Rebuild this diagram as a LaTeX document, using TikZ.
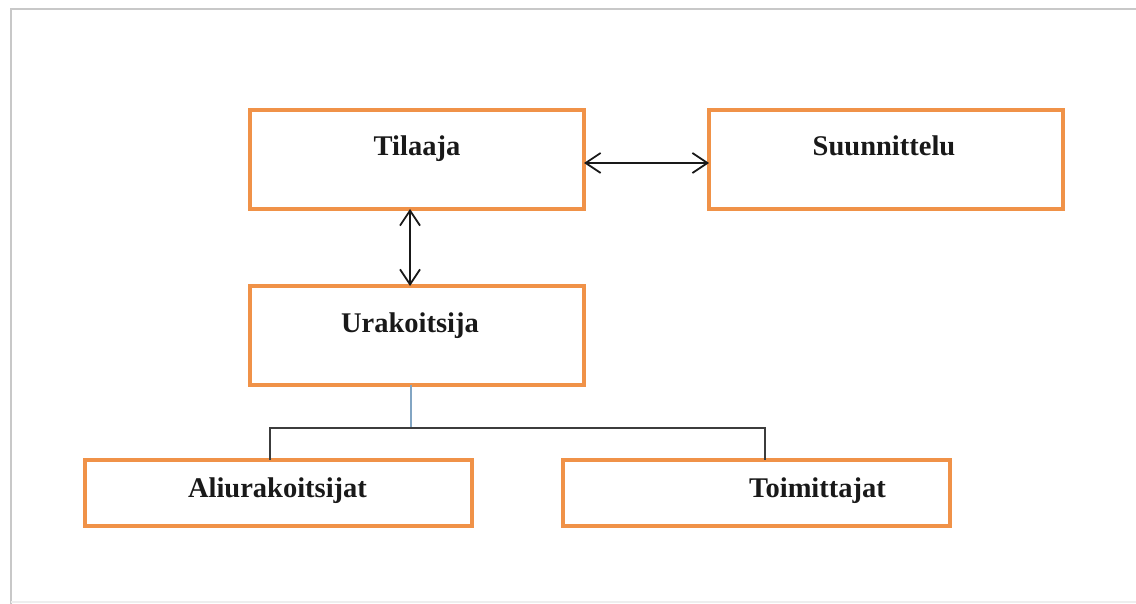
\documentclass[tikz,border=0pt]{standalone}
\usepackage{fontspec}
\setmainfont{Liberation Serif}
\usetikzlibrary{arrows.meta}
\definecolor{boxorange}{RGB}{240,146,72}
\definecolor{frame}{RGB}{200,200,200}
\definecolor{stem}{RGB}{130,165,195}
\definecolor{ink}{RGB}{25,25,25}
\begin{document}
\begin{tikzpicture}[x=1pt,y=-1pt,
  orgbox/.style={draw=boxorange,line width=4pt,inner sep=0pt,outer sep=0pt,anchor=north west},
  lbl/.style={anchor=base,inner sep=0pt,text=ink,font=\fontsize{28.5}{34}\selectfont\bfseries},
  dblarrow/.style={{Straight Barb[length=15pt,width=20pt]}-{Straight Barb[length=15pt,width=20pt]},line width=1.8pt,draw=ink},
  conn/.style={line width=1.8pt,draw=ink!85}]
\useasboundingbox (0,0) rectangle (1136,604);
% frame
\draw[frame,line width=2.5pt] (11,604) -- (11,9) -- (1136,9);
\draw[frame!30,line width=1.5pt] (11,602) -- (1136,602);
% boxes
\node[orgbox,minimum width=334,minimum height=99] (til) at (250,110) {};
\node[orgbox,minimum width=354,minimum height=99] (suu) at (709,110) {};
\node[orgbox,minimum width=334,minimum height=99] (ura) at (250,286) {};
\node[orgbox,minimum width=387,minimum height=66] (ali) at (85,460) {};
\node[orgbox,minimum width=387,minimum height=66] (toi) at (563,460) {};
% labels
\node[lbl] (tilT) at ([yshift=-46pt]til.north) {Tilaaja};
\node[lbl] (suuT) at ([yshift=-46pt,xshift=-2pt]suu.north) {Suunnittelu};
\node[lbl] (uraT) at ([yshift=-47pt,xshift=-7pt]ura.north) {Urakoitsija};
\node[lbl] (aliT) at ([yshift=-37pt,xshift=-1pt]ali.north) {Aliurakoitsijat};
\node[lbl] (toiT) at ([yshift=-37pt,xshift=61pt]toi.north) {Toimittajat};
% arrows
\draw[dblarrow] ([yshift=-3.5pt]til.east) -- ([yshift=-3.5pt]suu.west);
\draw[dblarrow] ([xshift=-7pt]til.south) -- ([xshift=-7pt]ura.north);
% tree connector
\coordinate (j) at (411,428);
\draw[stem,line width=1.5pt] ([xshift=-6pt]ura.south) -- (j);
\draw[conn] (j) -| ([xshift=-8.5pt]ali.north);
\draw[conn] (j) -| ([xshift=8.5pt]toi.north);
\end{tikzpicture}
\end{document}
